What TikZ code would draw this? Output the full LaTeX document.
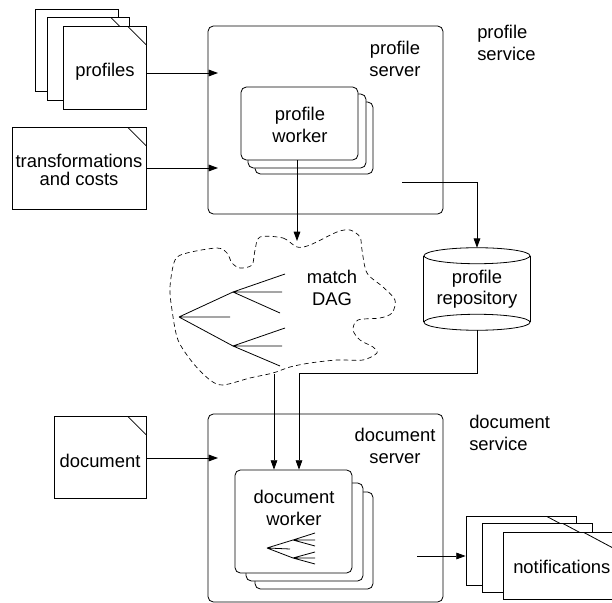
\documentclass[tikz,border=0pt]{standalone}
\usepackage{fontspec}
\setmainfont{Liberation Sans}
\usetikzlibrary{arrows.meta,fit}
\begin{document}
\begin{tikzpicture}[x=0.75pt,y=-0.75pt,
  every node/.style={font=\fontsize{13.8pt}{16pt}\selectfont},
  lbl/.style={inner sep=0pt, align=center},
  lbll/.style={inner sep=0pt, align=left, anchor=west},
  sheet/.style={draw, fill=white, inner sep=0pt, line width=0.6pt},
  fold/.style 2 args={path picture={\draw[line width=0.6pt] ([xshift=-#1]path picture bounding box.north east) -- ([yshift=-#2]path picture bounding box.north east);}},
  rbox/.style={draw, fill=white, inner sep=0pt, rounded corners=4pt, line width=0.6pt},
  conn/.style={line width=0.6pt},
  arr/.style={conn, -{Triangle[length=7pt,width=5pt]}},
  cloudline/.style={line width=0.5pt, dash pattern=on 3.5pt off 2.5pt},
]
\useasboundingbox (0,0) rectangle (612,603);

% profiles stack
\node[sheet, fit={(35,9)(118,91)}] (profC) {};
\node[sheet, fit={(47,17)(129,100)}, fold={14pt}{14pt}] (profB) {};
\node[sheet, fit={(63,26)(146,109)}, fold={14pt}{14pt}] (profA) {};
\node[lbl] (profT) at (105,72) {profiles};

% transformations
\node[sheet, fit={(12,127)(146,209)}, fold={14pt}{14pt}] (trans) {};
\node[lbl, font=\fontsize{13.8pt}{13.3pt}\selectfont] (transT) at (79,170) {transformations\\and costs};

% document
\node[sheet, fit={(54,416)(146,498)}, fold={14pt}{14pt}] (doc) {};
\node[lbl] (docT) at (100,461) {document};

% profile server
\node[rbox, fit={(208,26)(443,214)}] (psrv) {};
\node[lbl] (psrvT) at (395,59) {profile\\server};
\node[lbll] (pserv) at (477,43) {profile\\service};
\node[rbox, fit={(255,102)(373,174)}] (pw3) {};
\node[rbox, fit={(248,94)(366,168)}] (pw2) {};
\node[rbox, fit={(241,87)(358,160)}] (pw1) {};
\node[lbl] (pwT) at (300,125) {profile\\worker};

% document server
\node[rbox, fit={(208,414)(443,602)}] (dsrv) {};
\node[lbl] (dsrvT) at (395,446) {document\\server};
\node[lbll] (dserv) at (469,433) {document\\service};
\node[rbox, fit={(255,492)(373,589)}] (dw3) {};
\node[rbox, fit={(246,483)(363,581)}] (dw2) {};
\node[rbox, fit={(235,470)(352,573)}] (dw1) {};
\node[lbl] (dwT) at (294,508) {document\\worker};
% small tree
\coordinate (sr) at (267,548);
\coordinate (su) at (293,540);
\coordinate (sd) at (293,558);
\draw[conn] (sr) -- (su) (sr) -- (sd) (sr) -- (290,549);
\draw[conn] (su) -- (315,533) (su) -- (315,540) (su) -- (315,546);
\draw[conn] (sd) -- (315,552) (sd) -- (315,558) (sd) -- (315,564);

% notifications
\node[sheet, fit={(466,516)(576,585)}, fold={22.5pt}{12pt}] (notC) {};
\node[sheet, fit={(482,523)(592,592)}, fold={22.5pt}{12pt}] (notB) {};
\node[sheet, fit={(503,532)(613,599)}, fold={22.5pt}{12pt}] (notA) {};
\node[lbll] (notT) at (513,567) {notifications};

% repository
\node[inner sep=0pt, minimum width=79.5pt, minimum height=61.5pt, align=center] (repo) at (477,289) {profile\\repository};
\draw[conn] ([yshift=-6pt]repo.north) ellipse [x radius=39.75pt, y radius=6pt];
\draw[conn] ([yshift=6pt]repo.south) ellipse [x radius=39.75pt, y radius=6pt];
\draw[conn] ([yshift=-6pt]repo.north west) -- ([yshift=6pt]repo.south west);
\draw[conn] ([yshift=-6pt]repo.north east) -- ([yshift=6pt]repo.south east);

% match DAG cloud
\draw[cloudline] plot[smooth cycle] coordinates {
 (260,237) (283,238) (297,247) (310,245) (337,232) (350,230) (360,237) (362,250)
 (367,273) (383,287) (395,300) (392,313) (380,318) (358,320) (353,330) (360,340)
 (373,347) (377,353) (363,360) (337,360) (310,363) (290,367) (273,373) (250,378)
 (223,385) (210,380) (193,363) (178,340) (172,310) (170,287) (175,260) (187,253)
 (217,248) (227,253) (232,263) (240,268) (252,265) (255,250)};
\node[lbl] (dagT) at (332,288) {match\\DAG};
\coordinate (br) at (179,317);
\coordinate (bu) at (233,292);
\coordinate (bd) at (233,346);
\draw[conn] (br) -- (bu) (br) -- (bd) (br) -- (230,317);
\draw[conn] (bu) -- (285,274) (bu) -- (282,292) (bu) -- (280,313);
\draw[conn] (bd) -- (285,328) (bd) -- (282,346) (bd) -- (280,366);

% connectors
\coordinate (in1) at (218,73);
\coordinate (in2) at (218,168);
\coordinate (in3) at (218,458);
\draw[arr] (profA.east |- in1) -- (in1);
\draw[arr] (trans.east |- in2) -- (in2);
\draw[arr] (doc.east |- in3) -- (in3);
\coordinate (cloudtop) at (297,241);
\draw[arr] (cloudtop |- pw1.south) -- (cloudtop);
\coordinate (psout) at (402,182);
\draw[arr] (psout) -| (repo.north);
\coordinate (jn) at (299,373);
\draw[arr] (repo.south) |- (jn) -- (jn |- dw1.north);
\coordinate (cloudbot) at (274,374);
\draw[arr] (cloudbot) -- (cloudbot |- dw1.north);
\coordinate (dsout) at (417,556);
\draw[arr] (dsout) -- (dsout -| notC.west);
\end{tikzpicture}
\end{document}
